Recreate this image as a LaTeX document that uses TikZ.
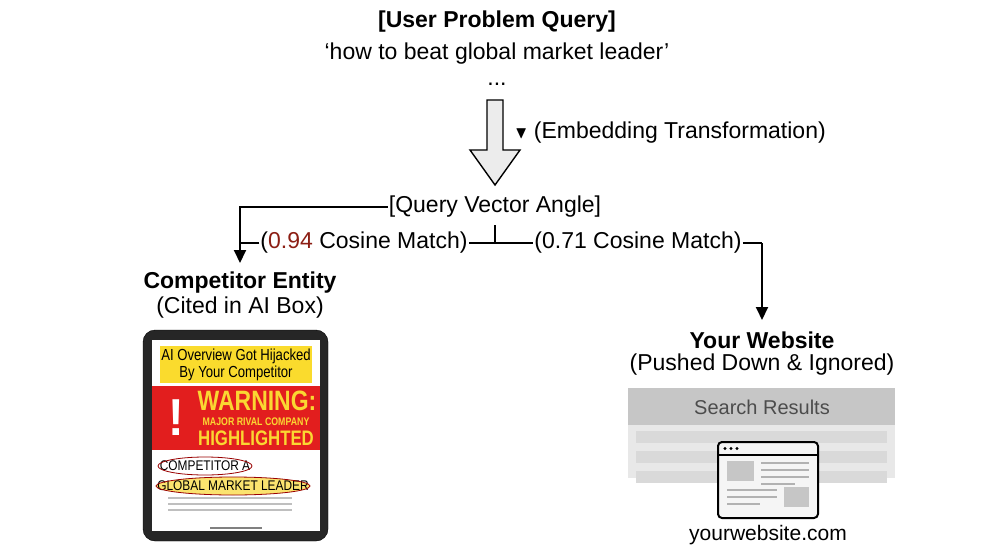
\documentclass[tikz,border=0pt]{standalone}
\usepackage{amssymb}
\usepackage{fontspec}
\setmainfont{Liberation Sans}
\usepackage{tikz}
\usetikzlibrary{calc}
\usetikzlibrary{shapes.geometric, arrows, positioning, arrows.meta}
\tikzstyle{arrow} = [-{Triangle[length=13pt,width=12pt]}]
\tikzstyle{link} = [line width=2pt]
\tikzstyle{lbl} = [font=\fontsize{23}{27}\selectfont, inner sep=1pt]
\tikzstyle{ttl} = [font=\bfseries\fontsize{23}{27}\selectfont, inner sep=1pt]
\tikzstyle{oval} = [inner sep=1pt,xscale=0.85,font=\fontsize{14}{14}\selectfont]
\tikzstyle{ring} = [draw=red!60!black,thick]
\definecolor{warnred}{RGB}{226,30,30}
\definecolor{warnyel}{RGB}{250,215,50}
\definecolor{numred}{RGB}{140,30,20}
\begin{document}
\begin{tikzpicture}[x=1pt,y=-1pt]
    \useasboundingbox (0,0) rectangle (993,559);
    % query on top
    \node[ttl] (q_title) at (497,22) {[User Problem Query]};
    \node[lbl] (q_text) at (497,54) {`how to beat global market leader'};
    \node[lbl] (q_dots) at (497,84) {...};
    % hollow arrow
    \draw[line width=1.4pt,fill=gray!15] (487,100) -- (503,100) -- (503,150) -- (520,150) -- (495,185)
        -- (470,150) -- (487,150) -- cycle;
    \node[lbl,anchor=west] (q_emb) at (514,133) {\fontsize{17}{18}\selectfont$\blacktriangledown$\fontsize{23}{27}\selectfont\ (Embedding Transformation)};
    \node[lbl] (q_vec) at (495,207) {[Query Vector Angle]};
    % branches
    \node[lbl] (m_left) at (364,243) {(\textcolor{numred}{0.94} Cosine Match)};
    \node[lbl] (m_right) at (638,243) {(0.71 Cosine Match)};
    \coordinate (c_split) at (495,243);
    \coordinate (c_left) at (240,207);
    \coordinate (c_right) at (762,243);
    \draw[link] (c_split) -- (m_left.east);
    \draw[link] (c_split) -- (m_right.west);
    \draw[link] (c_split) -- ++(0,-18);
    \draw[link] (m_left.west) -- (240,243);
    \draw[link] (m_right.east) -- (c_right);
    \draw[link,arrow] (q_vec.west) -- (c_left) -- (240,263);
    \draw[link,arrow] (c_right) -- (762,320);
    % competitor
    \node[ttl] (comp) at (240,283) {Competitor Entity};
    \node[lbl] (comp_sub) at (240,308) {(Cited in AI Box)};
    \draw[fill=black!85,rounded corners=12pt] (143,330) rectangle (328,541);
    \fill[white] (152,340) rectangle (320,531);
    \fill[warnyel!90!yellow] (160,346) rectangle (312,383);
    \node[font=\fontsize{16}{17}\selectfont,align=center,xscale=0.82] (ai_box) at (236,364.5) {AI Overview Got Hijacked\\By Your Competitor};
    \fill[warnred] (152,386) rectangle (320,450);
    \node[text=white,font=\bfseries\fontsize{52}{52}\selectfont,xscale=0.9] (warn_mark) at (176,418) {!};
    \node[text=warnyel,font=\bfseries\fontsize{28}{28}\selectfont,xscale=0.82,inner sep=0pt] (warn) at (257,401) {WARNING:};
    \node[text=warnyel,font=\bfseries\fontsize{11}{11}\selectfont,xscale=0.8,inner sep=0pt] (warn_rival) at (256,422) {MAJOR RIVAL COMPANY};
    \node[text=warnyel,font=\bfseries\fontsize{21}{21}\selectfont,xscale=0.8,inner sep=0pt] (warn_high) at (256,438) {HIGHLIGHTED};
    \fill[warnyel!70] (233,486) ellipse [x radius=77, y radius=9];
    \node[oval] (comp_a) at (205,466) {COMPETITOR A};
    \node[oval] (comp_lead) at (233,486) {GLOBAL MARKET LEADER};
    \draw[ring] (comp_a) ellipse [x radius=47, y radius=9];
    \draw[ring] (comp_lead) ellipse [x radius=77, y radius=9];
    \foreach \y in {498,504,510}
        \draw[gray!50,line width=1.3pt] (168,\y) -- (292,\y);
    \draw[gray,line width=1.5pt] (210,528) -- (262,528);
    % your website
    \node[ttl] (site) at (762,340) {Your Website};
    \node[lbl] (site_sub) at (762,365) {(Pushed Down \& Ignored)};
    \fill[gray!18] (628,388) rectangle (895,478);
    \fill[gray!45] (628,388) rectangle (895,425);
    \node[lbl,text=black!70,font=\fontsize{20}{22}\selectfont] (results) at (762,407) {Search Results};
    \foreach \y in {431,451,471}
        \fill[gray!30] (636,\y) rectangle (887,\y+12);
    % browser icon
    \draw[line width=2pt,fill=gray!8,rounded corners=4pt] (718,442) rectangle (818,518);
    \draw[line width=2pt] (718,455) -- (818,455);
    \foreach \x in {725,731,737}
        \fill (\x,448.5) circle (1.6);
    \fill[gray!45] (727,461) rectangle (754,481);
    \fill[gray!45] (784,487) rectangle (809,507);
    \foreach \y in {463,470,477}
        \draw[gray!60,line width=1.6pt] (761,\y) -- (809,\y);
    \draw[gray!60,line width=1.6pt] (761,484) -- (795,484);
    \foreach \y in {490,497}
        \draw[gray!60,line width=1.6pt] (727,\y) -- (777,\y);
    \draw[gray!60,line width=1.6pt] (727,504) -- (760,504);
    \node[lbl,font=\fontsize{21}{24}\selectfont] (site_url) at (768,535) {yourwebsite.com};
\end{tikzpicture}
\end{document}
